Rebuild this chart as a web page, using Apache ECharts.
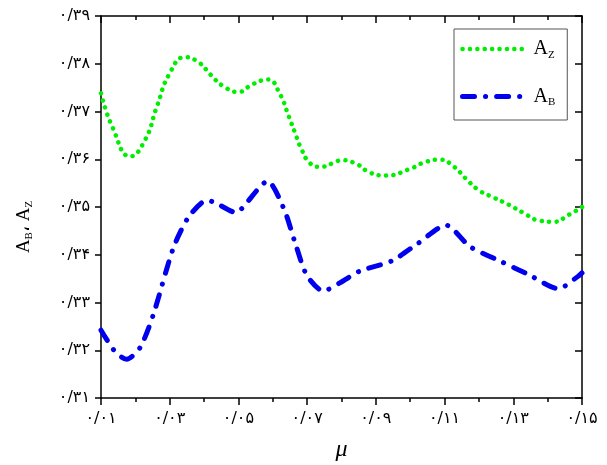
<!DOCTYPE html>
<html>
<head>
<meta charset="utf-8">
<script src="https://cdn.jsdelivr.net/npm/echarts@6/dist/echarts.min.js"></script>
<style>
  html, body { margin: 0; padding: 0; background: #fff; }
  #chart { width: 607px; height: 465px; }
</style>
</head>
<body>
<div id="chart"></div>
<script>
// A_Z against mu (green dotted curve)
const muZ = [0.0100, 0.0134, 0.0185, 0.0228, 0.0262, 0.0300, 0.0345, 0.0386, 0.0419, 0.0456,
             0.0500, 0.0541, 0.0586, 0.0619, 0.0647, 0.0665, 0.0683, 0.0708, 0.0737, 0.0776,
             0.0800, 0.0844, 0.0883, 0.0930, 0.1000, 0.1043, 0.1087, 0.1128, 0.1161, 0.1200,
             0.1242, 0.1286, 0.1329, 0.1373, 0.1418, 0.1460, 0.1500];
const aZ  = [0.3738, 0.3666, 0.3606, 0.3640, 0.3709, 0.3780, 0.3814, 0.3802, 0.3777, 0.3753,
             0.3741, 0.3757, 0.3767, 0.3739, 0.3689, 0.3655, 0.3622, 0.3592, 0.3584, 0.3592,
             0.3598, 0.3590, 0.3572, 0.3566, 0.3580, 0.3594, 0.3599, 0.3584, 0.3560, 0.3535,
             0.3520, 0.3505, 0.3488, 0.3472, 0.3469, 0.3483, 0.3500];

// A_B against mu (blue dash-dot curve)
const muB = [0.0100, 0.0141, 0.0175, 0.0214, 0.0252, 0.0310, 0.0354, 0.0408, 0.0432, 0.0495,
             0.0516, 0.0585, 0.0633, 0.0665, 0.0699, 0.0747, 0.0795, 0.0854, 0.0946, 0.1023,
             0.1104, 0.1174, 0.1261, 0.1343, 0.1431, 0.1489, 0.1500];
const aB  = [0.3242, 0.3197, 0.3181, 0.3206, 0.3274, 0.3413, 0.3478, 0.3514, 0.3509, 0.3488,
             0.3502, 0.3554, 0.3495, 0.3425, 0.3357, 0.3324, 0.3341, 0.3366, 0.3387, 0.3424,
             0.3462, 0.3417, 0.3387, 0.3359, 0.3329, 0.3355, 0.3362];

// Axis ticks
const xMajorTicks = [0.01, 0.03, 0.05, 0.07, 0.09, 0.11, 0.13, 0.15];
const xMinorTicks = [0.02, 0.04, 0.06, 0.08, 0.10, 0.12, 0.14];
const yTicks = [0.31, 0.32, 0.33, 0.34, 0.35, 0.36, 0.37, 0.38, 0.39];

const persianDigits = '۰۱۲۳۴۵۶۷۸۹';
function toPersian(v) {
  return v.toFixed(2).replace('.', '/').replace(/[0-9]/g, d => persianDigits[+d]);
}

const pairs = (xs, ys) => xs.map((x, i) => [x, ys[i]]);

const AXIS = '#000';
const GREEN = '#00ee00';
const BLUE = '#0000ee';
const labelFont = { fontFamily: 'DejaVu Sans', fontSize: 16, color: '#000' };
const dotted = { width: 4.5, type: [0.1, 7.3], cap: 'round', color: GREEN };
const dashDot = { width: 5, type: [12, 11, 0.1, 11], cap: 'round', color: BLUE };

const chart = echarts.init(document.getElementById('chart'), null, { renderer: 'canvas' });

const xBase = { type: 'value', min: 0.01, max: 0.15, gridIndex: 0, splitLine: { show: false } };
const yBase = { type: 'value', min: 0.31, max: 0.39, gridIndex: 0, splitLine: { show: false } };

chart.setOption({
  animation: false,
  backgroundColor: '#fff',
  grid: { left: 101, right: 25, top: 16, bottom: 67, outerBoundsMode: 'none', containLabel: false },
  xAxis: [
    Object.assign({}, xBase, {
      position: 'bottom',
      name: 'μ',
      nameLocation: 'middle',
      nameGap: 40,
      nameTextStyle: { fontFamily: 'Liberation Serif', fontStyle: 'italic', fontSize: 24, color: '#000' },
      axisLine: { show: true, onZero: false, lineStyle: { color: AXIS, width: 1.5 } },
      axisTick: { show: true, inside: false, length: 7, customValues: xMajorTicks, lineStyle: { color: AXIS, width: 1.5 } },
      axisLabel: Object.assign({ customValues: xMajorTicks, margin: 13, formatter: v => toPersian(v) }, labelFont)
    }),
    Object.assign({}, xBase, {
      position: 'bottom',
      axisLine: { show: false, onZero: false },
      axisTick: { show: true, inside: false, length: 4, customValues: xMinorTicks, lineStyle: { color: AXIS, width: 1.5 } },
      axisLabel: { show: false }
    }),
    Object.assign({}, xBase, {
      position: 'top',
      axisLine: { show: true, onZero: false, lineStyle: { color: AXIS, width: 1.5 } },
      axisTick: { show: true, inside: true, length: 7, customValues: xMajorTicks, lineStyle: { color: AXIS, width: 1.5 } },
      axisLabel: { show: false }
    }),
    Object.assign({}, xBase, {
      position: 'top',
      axisLine: { show: false, onZero: false },
      axisTick: { show: true, inside: true, length: 4, customValues: xMinorTicks, lineStyle: { color: AXIS, width: 1.5 } },
      axisLabel: { show: false }
    })
  ],
  yAxis: [
    Object.assign({}, yBase, {
      position: 'left',
      name: '{a|A}{s|B}{a|، A}{s|Z}',
      nameLocation: 'middle',
      nameRotate: 90,
      nameGap: 66,
      nameTextStyle: {
        color: '#000',
        padding: [0, 40, 0, 0],
        rich: {
          a: { fontFamily: 'Liberation Serif', fontSize: 19, color: '#000' },
          s: { fontFamily: 'Liberation Serif', fontSize: 11, color: '#000', padding: [11, 0, 0, 0] }
        }
      },
      axisLine: { show: true, onZero: false, lineStyle: { color: AXIS, width: 1.5 } },
      axisTick: { show: true, inside: false, length: 6, customValues: yTicks, lineStyle: { color: AXIS, width: 1.5 } },
      axisLabel: Object.assign({ customValues: yTicks, margin: 11, formatter: v => toPersian(v) }, labelFont)
    }),
    Object.assign({}, yBase, {
      position: 'right',
      axisLine: { show: true, onZero: false, lineStyle: { color: AXIS, width: 1.5 } },
      axisTick: { show: true, inside: true, length: 7, customValues: yTicks, lineStyle: { color: AXIS, width: 1.5 } },
      axisLabel: { show: false }
    })
  ],
  legend: {
    orient: 'vertical',
    left: 454,
    top: 29,
    padding: [10, 12, 12, 6],
    itemWidth: 60,
    itemHeight: 14,
    itemGap: 26,
    borderColor: '#555',
    borderWidth: 1,
    selectedMode: false,
    data: [
      { name: 'AZ', itemStyle: { opacity: 0 }, lineStyle: dotted },
      { name: 'AB', itemStyle: { opacity: 0 }, lineStyle: dashDot }
    ],
    formatter: name => name === 'AZ' ? '{a|A}{s|Z}' : '{a|A}{s|B}',
    textStyle: {
      padding: [0, 0, 0, 6],
      rich: {
        a: { fontFamily: 'Liberation Serif', fontSize: 20, color: '#000' },
        s: { fontFamily: 'Liberation Serif', fontSize: 11, color: '#000', padding: [12, 0, 0, 0] }
      }
    }
  },
  series: [
    {
      name: 'AZ',
      type: 'line',
      data: pairs(muZ, aZ),
      smooth: 0.5,
      symbol: 'none',
      itemStyle: { color: GREEN },
      lineStyle: dotted
    },
    {
      name: 'AB',
      type: 'line',
      data: pairs(muB, aB),
      smooth: 0.25,
      symbol: 'none',
      itemStyle: { color: BLUE },
      lineStyle: dashDot
    }
  ]
});
</script>
</body>
</html>
